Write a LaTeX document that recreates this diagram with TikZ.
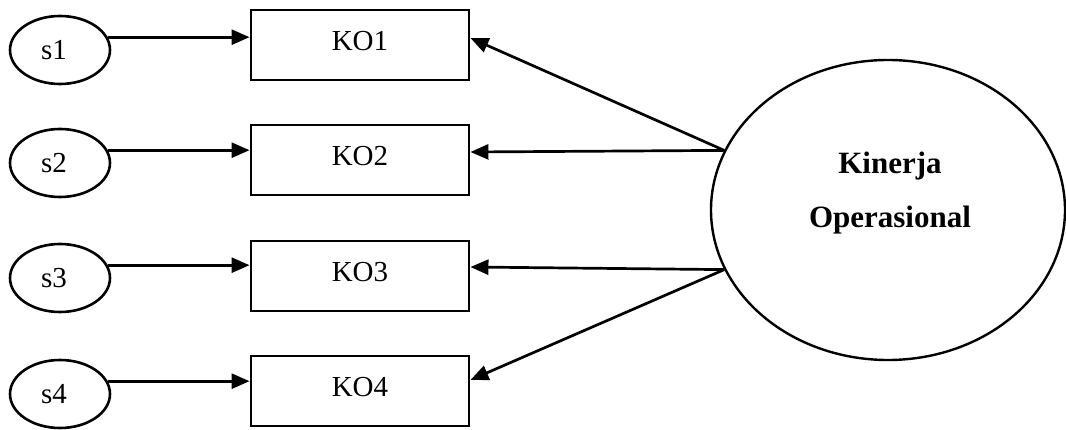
\documentclass[tikz,border=0pt]{standalone}
\usepackage{fontspec}
\setmainfont{Liberation Serif}
\usetikzlibrary{shapes.geometric,arrows.meta,calc}
\begin{document}
\begin{tikzpicture}[x=1pt,y=-1pt,
  errnode/.style={ellipse,draw,line width=2.6pt,minimum width=100pt,minimum height=68pt,inner sep=0pt,font=\fontsize{29}{34}\selectfont,execute at begin node={\hspace*{-12pt}}},
  indbox/.style={rectangle,draw,line width=2.9pt,minimum width=218pt,minimum height=70pt,inner sep=0pt,text depth=8pt,font=\fontsize{29}{34}\selectfont},
  latent/.style={ellipse,draw,line width=2.4pt,minimum width=354pt,minimum height=300pt,inner sep=0pt},
  arr/.style={line width=2.7pt,-{Triangle[length=18pt,width=15pt]}},
]
\useasboundingbox (0,0) rectangle (1066,430);
% indicator boxes
\node[indbox] (k1) at (360,45) {KO1};
\node[indbox] (k2) at (360,160) {KO2};
\node[indbox] (k3) at (360,276) {KO3};
\node[indbox] (k4) at (360,391) {KO4};
% error ellipses
\node[errnode] (s1) at (60,50) {s1};
\node[errnode] (s2) at (60,163) {s2};
\node[errnode] (s3) at (60,278) {s3};
\node[errnode] (s4) at (60,394) {s4};
% latent
\node[latent] (ko) at (888,210) {};
\node[align=center,font=\bfseries\fontsize{31}{54}\selectfont] (kot) at ($(ko.center)+(2,-17)$) {Kinerja\\Operasional};
% error arrows
\foreach \i in {1,2,3,4}{
  \draw[arr] (s\i.15) -- (s\i.15 -| k\i.west);
}
% loading arrows
\coordinate (t1) at ($(k1.east)+(0,-7)$);
\coordinate (t2) at ($(k2.east)+(0,-8)$);
\coordinate (t3) at ($(k3.east)+(0,-9)$);
\coordinate (t4) at ($(k4.east)+(0,-11)$);
\draw[arr] (ko.160) -- (t1);
\draw[arr] (ko.160) -- (t2);
\draw[arr] (ko.200) -- (t3);
\draw[arr] (ko.200) -- (t4);
\end{tikzpicture}
\end{document}
